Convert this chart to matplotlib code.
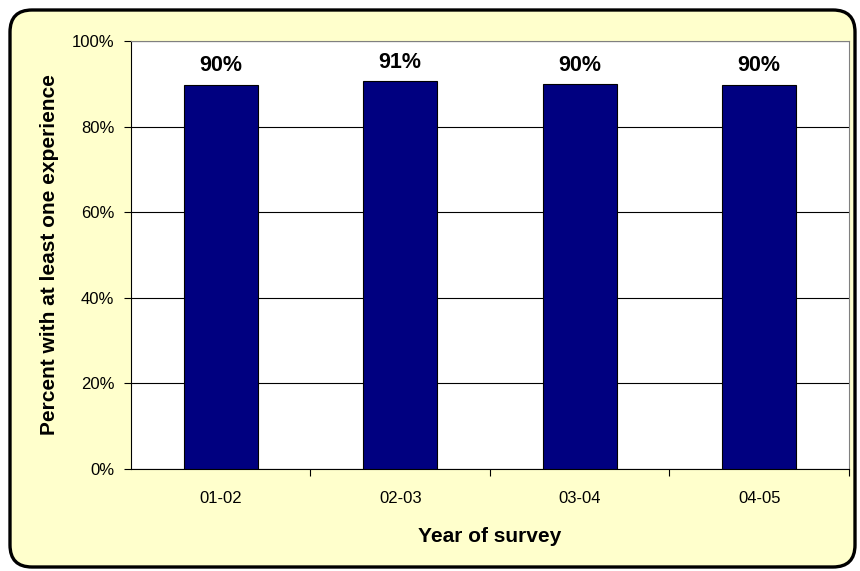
import matplotlib.pyplot as plt
from matplotlib.patches import FancyBboxPatch

years = ["01-02", "02-03", "03-04", "04-05"]
pct = [89.8, 90.6, 89.9, 89.8]

plt.rcParams['font.family'] = ['Liberation Sans', 'DejaVu Sans']

fig = plt.figure(figsize=(8.6, 5.71), dpi=100, facecolor='white')

# rounded pale-yellow chart frame, drawn in pixel coordinates
frame = FancyBboxPatch((10, 4), 845, 557, boxstyle="round,pad=0,rounding_size=22",
                       facecolor='#FFFFCC', edgecolor='black', linewidth=2.4,
                       transform=None, zorder=0)
fig.add_artist(frame)

ax = fig.add_axes([0.1523, 0.1786, 0.8349, 0.7496])
ax.set_facecolor('white')

x = range(len(years))
bars = ax.bar(x, pct, width=0.41, color='#000080', edgecolor='black', linewidth=0.8, zorder=3)
for b, v in zip(bars, pct):
    ax.text(b.get_x() + b.get_width() / 2, v + 2, f"{v:.0f}%", ha='center', va='bottom',
            fontsize=15.5, fontweight='bold', zorder=4)

ax.set_xlim(-0.5, 3.5)
ax.set_ylim(0, 100)
ax.set_yticks(range(0, 101, 20))
ax.set_yticklabels([f"{t}%" for t in range(0, 101, 20)], fontsize=12)
ax.yaxis.grid(True, color='black', linewidth=0.8, zorder=1)

# category labels centred, tick marks between categories
ax.set_xticks([0.5, 1.5, 2.5, 3.5])
ax.set_xticklabels([])
ax.set_xticks(list(x), minor=True)
ax.set_xticklabels(years, minor=True, fontsize=12)
ax.tick_params(axis='x', which='minor', length=0, pad=16)
ax.tick_params(axis='x', which='major', length=5, direction='out')
ax.tick_params(axis='y', length=5, direction='out', pad=7)

for side in ['top', 'right']:
    ax.spines[side].set_color('#808080')
for side in ['left', 'bottom']:
    ax.spines[side].set_color('black')

ax.set_xlabel("Year of survey", fontsize=15, fontweight='bold', labelpad=15)
ax.set_ylabel("Percent with at least one experience", fontsize=15, fontweight='bold', labelpad=9)

fig.savefig("out.png", dpi=100, facecolor=fig.get_facecolor())
